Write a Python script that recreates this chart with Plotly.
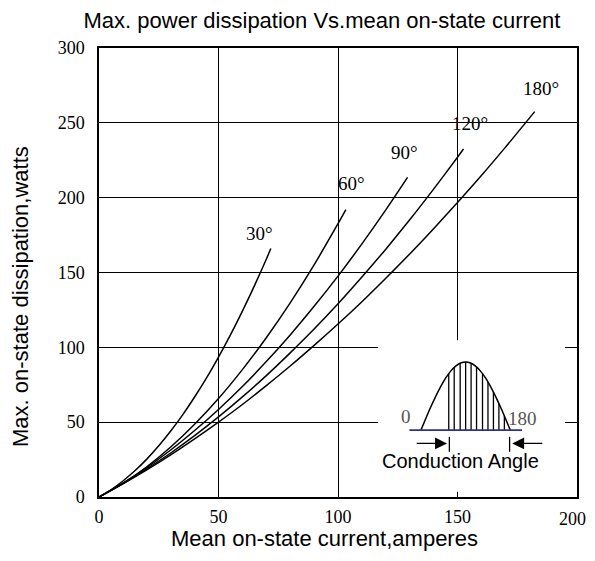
import math
import plotly.graph_objects as go

# ---------------- data ----------------
x_ticks = [0, 50, 100, 150, 200]
x_tick_text = ["0", "50", "100", "150", "200"]
y_ticks = [0, 50, 100, 150, 200, 250, 300]

curve_labels = ["30°", "60°", "90°", "120°", "180°"]

curve_30_x = [0, 5, 10, 15, 20, 25, 30, 35, 40, 45, 50, 55, 60, 65, 70, 71.9]
curve_30_y = [0, 4.8, 10.7, 17.5, 25.3, 34.2, 44.1, 54.9, 66.8, 79.6, 93.5, 108.3, 124.2, 141.1, 158.9, 166]

curve_60_x = [0, 10, 20, 30, 40, 50, 60, 70, 80, 90, 100, 103.3]
curve_60_y = [0, 9.1, 20.2, 33.4, 48.6, 65.8, 85.1, 106.4, 129.7, 155.1, 182.6, 192]

curve_90_x = [0, 10, 20, 30, 40, 50, 60, 70, 80, 90, 100, 110, 120, 129.1]
curve_90_y = [0, 9.3, 19.7, 31.4, 44.4, 58.5, 73.8, 90.5, 108.3, 127.4, 147.6, 169.1, 191.8, 213.5]

curve_120_x = [0, 10, 20, 30, 40, 50, 60, 70, 80, 90, 100, 110, 120, 130, 140, 150, 152.5]
curve_120_y = [0, 8.9, 18.8, 29.4, 41, 53.5, 66.9, 81.1, 96.3, 112.2, 129.1, 147, 165.6, 185.2, 205.7, 227, 232.5]

curve_180_x = [0, 10, 20, 30, 40, 50, 60, 70, 80, 90, 100, 110, 120, 130, 140, 150, 160, 170, 182.3]
curve_180_y = [0, 8.8, 18.1, 28.1, 38.8, 50, 61.8, 74.4, 87.5, 101.3, 115.6, 130.5, 146.2, 162.4, 179.3,
               196.8, 214.8, 233.6, 257.5]

label_x = [67.2, 105.5, 127.9, 155.1, 184.9]
label_y = [176, 209.7, 230.5, 249.7, 272.7]

# inset sketch (conduction angle waveform)
inset_angles = [0, 10, 20, 30, 40, 50, 60, 70, 80, 90, 100, 110, 120, 130, 140, 150, 160, 170, 180]
hatch_angles = [56, 67, 79, 90, 101, 112, 124, 135, 146, 157, 168]
inset_text = ["0", "180", "Conduction Angle"]

# ---------------- geometry / style ----------------
SERIF = "Liberation Serif, Times New Roman, serif"
SANS = "Liberation Sans, Arial, sans-serif"

# page has an 8px body margin, so figure is slightly smaller than the window
FIG_W, FIG_H = 587, 545
ML, MR, MT, MB = 91, 18, 40, 56
PLOT_W = FIG_W - ML - MR
PLOT_H = FIG_H - MT - MB

hump_x0, hump_x1 = 134.7, 172.1
hump_base, hump_h = 44.7, 45.5


def ang_to_x(a):
    return hump_x0 + (hump_x1 - hump_x0) * a / 180.0


def ang_to_y(a):
    return hump_base + hump_h * math.sin(math.radians(a))


fig = go.Figure()

curves = [
    (curve_30_x, curve_30_y),
    (curve_60_x, curve_60_y),
    (curve_90_x, curve_90_y),
    (curve_120_x, curve_120_y),
    (curve_180_x, curve_180_y),
]
for (cx, cy), name in zip(curves, curve_labels):
    fig.add_trace(go.Scatter(x=cx, y=cy, mode="lines", name=name,
                             line=dict(color="black", width=1.5, shape="spline", smoothing=0.8),
                             hoverinfo="skip", showlegend=False))

# inset hump
fig.add_trace(go.Scatter(x=[ang_to_x(a) for a in inset_angles],
                         y=[ang_to_y(a) for a in inset_angles],
                         mode="lines", line=dict(color="black", width=1.5, shape="spline"),
                         hoverinfo="skip", showlegend=False))
# hatching
hx, hy = [], []
for a in hatch_angles:
    hx += [ang_to_x(a), ang_to_x(a), None]
    hy += [hump_base, ang_to_y(a), None]
fig.add_trace(go.Scatter(x=hx, y=hy, mode="lines", line=dict(color="black", width=1.3),
                         hoverinfo="skip", showlegend=False))
# base line (blue)
fig.add_trace(go.Scatter(x=[129.9, 177.0], y=[hump_base, hump_base], mode="lines",
                         line=dict(color="#2e2e9a", width=1.6), hoverinfo="skip", showlegend=False))
# vertical marker ticks for conduction angle
fig.add_trace(go.Scatter(x=[146.6, 146.6, None, 171.8, 171.8], y=[30.2, 40.2, None, 30.2, 40.2],
                         mode="lines", line=dict(color="black", width=1.3),
                         hoverinfo="skip", showlegend=False))

annotations = []
for t, lx, ly in zip(curve_labels, label_x, label_y):
    annotations.append(dict(x=lx, y=ly, xref="x", yref="y", text=t, showarrow=False,
                            font=dict(family=SERIF, size=19, color="black"),
                            xanchor="center", yanchor="middle"))

annotations += [
    dict(x=128.6, y=53.5, xref="x", yref="y", text=inset_text[0], showarrow=False,
         font=dict(family=SERIF, size=19, color="#555555"), xanchor="center", yanchor="middle"),
    dict(x=177.3, y=52.5, xref="x", yref="y", text=inset_text[1], showarrow=False,
         font=dict(family=SERIF, size=19, color="#555555"), xanchor="center", yanchor="middle"),
    dict(x=151.2, y=24, xref="x", yref="y", text=inset_text[2], showarrow=False,
         font=dict(family=SANS, size=20, color="black"), xanchor="center", yanchor="middle"),
    # arrows
    dict(x=145.6, y=35.8, ax=132.3, ay=35.8, xref="x", yref="y", axref="x", ayref="y",
         text="", showarrow=True, arrowhead=2, arrowsize=1.7, arrowwidth=1.4, arrowcolor="black"),
    dict(x=172.9, y=35.8, ax=186.1, ay=35.8, xref="x", yref="y", axref="x", ayref="y",
         text="", showarrow=True, arrowhead=2, arrowsize=1.7, arrowwidth=1.4, arrowcolor="black"),
    # last x tick label, kept inside the visible page
    dict(x=x_ticks[-1], y=0, xref="x", yref="paper", text=x_tick_text[-1], showarrow=False,
         font=dict(family=SERIF, size=18, color="black"), xanchor="right", yanchor="top",
         xshift=11, yshift=-10),
    # axis titles
    dict(x=(324 - 99) / PLOT_W, y=-41.5 / PLOT_H, xref="paper", yref="paper",
         text="Mean on-state current,amperes",
         showarrow=False, font=dict(family=SANS, size=22, color="black"),
         xanchor="center", yanchor="middle"),
    dict(x=(20 - 99) / PLOT_W, y=(497 - 297) / PLOT_H, xref="paper", yref="paper",
         text="Max. on-state dissipation,watts", textangle=-90,
         showarrow=False, font=dict(family=SANS, size=22, color="black"),
         xanchor="center", yanchor="middle"),
]

fig.update_layout(
    width=FIG_W, height=FIG_H,
    margin=dict(l=ML, r=MR, t=MT, b=MB, pad=0),
    paper_bgcolor="white", plot_bgcolor="white",
    title=dict(text="Max. power dissipation Vs.mean on-state current",
               x=(322 - 8) / FIG_W, y=1 - (20 - 8) / FIG_H, xref="container", yref="container",
               xanchor="center", yanchor="middle",
               font=dict(family=SANS, size=22, color="black")),
    xaxis=dict(range=[0, 200], tickvals=x_ticks, ticktext=x_tick_text[:-1] + [""],
               showgrid=True, gridcolor="black", gridwidth=1.3, zeroline=False,
               showline=True, linecolor="black", linewidth=1.5, mirror=True,
               ticks="outside", ticklen=3, tickcolor="rgba(0,0,0,0)", automargin=False,
               ticklabeloverflow="allow",
               tickfont=dict(family=SERIF, size=18, color="black"), fixedrange=True),
    yaxis=dict(range=[0, 300], tickvals=y_ticks, ticktext=[str(v) for v in y_ticks],
               showgrid=True, gridcolor="black", gridwidth=1.3, zeroline=False,
               showline=True, linecolor="black", linewidth=1.5, mirror=True,
               ticks="outside", ticklen=9, tickcolor="rgba(0,0,0,0)", automargin=False,
               tickfont=dict(family=SERIF, size=18, color="black"), fixedrange=True),
    shapes=[dict(type="rect", xref="x", yref="y", x0=116.8, x1=195, y0=3.5, y1=104.7,
                 fillcolor="white", line=dict(width=0), layer="between")],
    annotations=annotations,
    showlegend=False,
)

fig.write_html("out.html")
